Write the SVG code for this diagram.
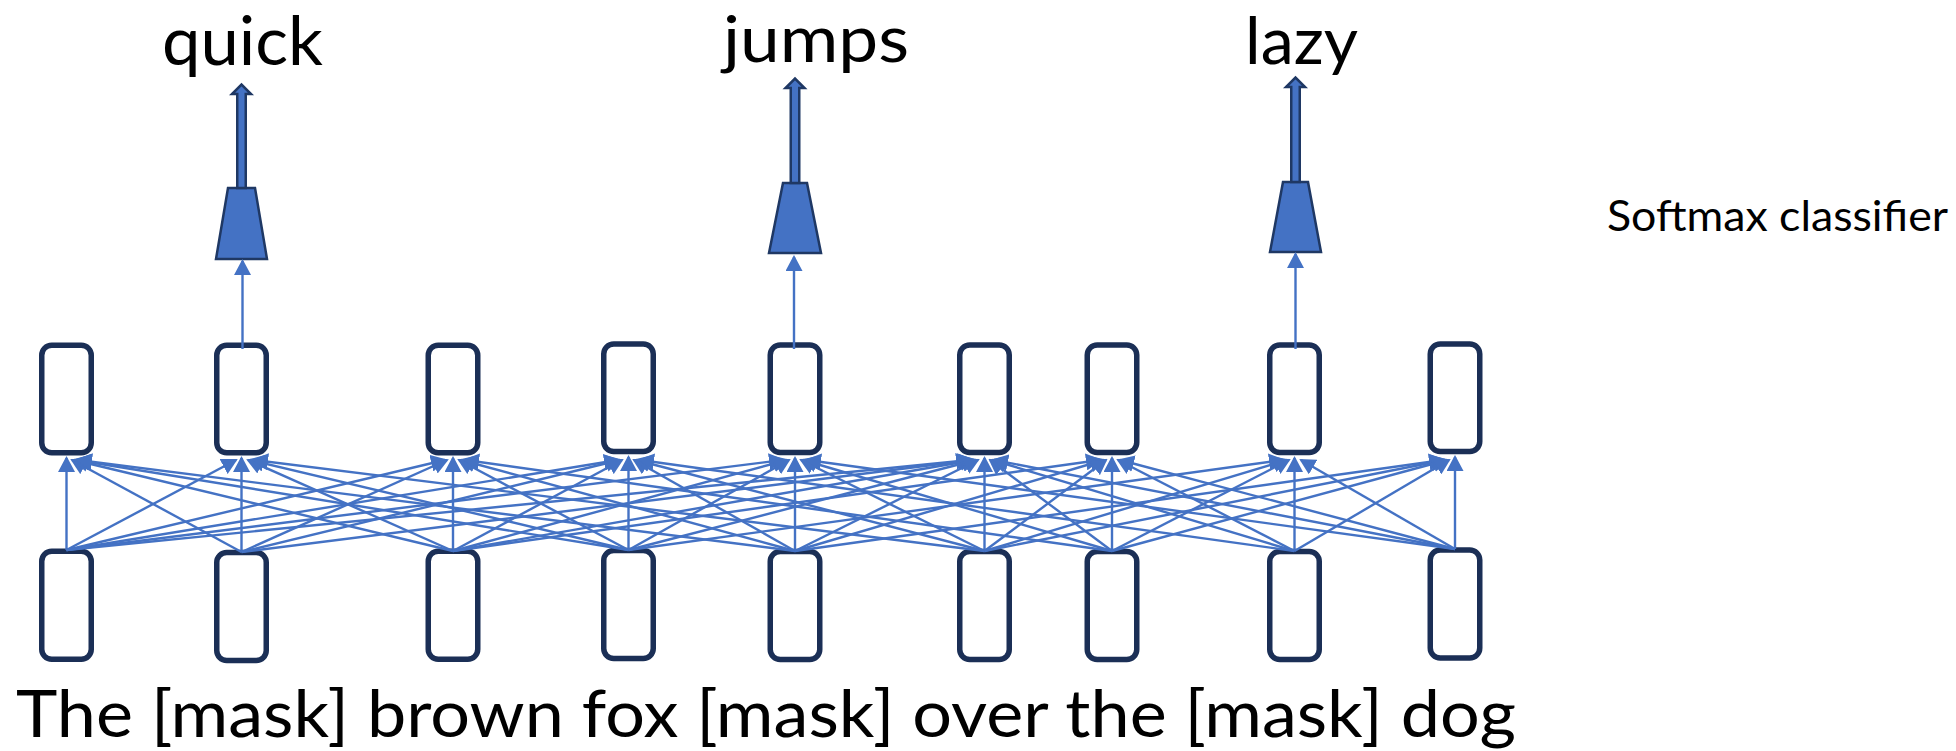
<svg xmlns="http://www.w3.org/2000/svg" width="1956" height="751" viewBox="0 0 1956 751">
  <style>
    .cell { fill: #ffffff; stroke: #1B2F56; stroke-width: 5.5; }
    .c { stroke: #4472C4; stroke-width: 2.4; fill: none; marker-end: url(#ah); }
    .clf { fill: #4472C4; stroke: #1F3864; stroke-width: 2.5; stroke-linejoin: miter; }
    .word { font-family: Lato, "Open Sans", "Liberation Sans", sans-serif; fill: #000000; }
  </style>
  <defs>
    <marker id="ah" viewBox="0 0 16 17" refX="14" refY="8.5" markerWidth="16" markerHeight="17" markerUnits="userSpaceOnUse" orient="auto">
      <path d="M0,0 L16,8.5 L0,17 z" fill="#4472C4"/>
    </marker>
  </defs>
  <rect width="1956" height="751" fill="#ffffff"/>

  <!-- output labels -->
  <text id="label-quick" class="word" x="162" y="65" font-size="68" textLength="161" lengthAdjust="spacingAndGlyphs">quick</text>
  <text id="label-jumps" class="word" x="723" y="62" font-size="64" textLength="186" lengthAdjust="spacingAndGlyphs">jumps</text>
  <text id="label-lazy" class="word" x="1245" y="64" font-size="66" textLength="113" lengthAdjust="spacingAndGlyphs">lazy</text>
  <text id="label-softmax" class="word" x="1607" y="231" font-size="42" textLength="341" lengthAdjust="spacingAndGlyphs">Softmax classifier</text>

  <!-- softmax classifiers -->
  <g id="clf-quick">
    <polygon class="clf" points="228,188 255,188 267,259 216,259"/>
    <polygon class="clf" points="237.25,188 237.25,94 232,94 241.5,84.5 251,94 245.75,94 245.75,188"/>
  </g>
  <g id="clf-jumps">
    <polygon class="clf" points="783,183 807,183 821,253 769,253"/>
    <polygon class="clf" points="790.75,183 790.75,88 785.5,88 795,78.5 804.5,88 799.25,88 799.25,183"/>
  </g>
  <g id="clf-lazy">
    <polygon class="clf" points="1283,182 1308,182 1321,252 1270,252"/>
    <polygon class="clf" points="1291.25,182 1291.25,87 1286,87 1295.5,77.5 1305,87 1299.75,87 1299.75,182"/>
  </g>

  <!-- upper (contextual) cells -->
  <g id="h1"><rect class="cell" x="41.75" y="345.25" width="49.5" height="107.5" rx="10"/></g>
  <g id="h2"><rect class="cell" x="216.75" y="345.25" width="49.5" height="107.5" rx="10"/></g>
  <g id="h3"><rect class="cell" x="428.25" y="345.25" width="49.5" height="107.5" rx="10"/></g>
  <g id="h4"><rect class="cell" x="603.75" y="344" width="49.5" height="107.5" rx="10"/></g>
  <g id="h5"><rect class="cell" x="770.25" y="345" width="49.5" height="107.5" rx="10"/></g>
  <g id="h6"><rect class="cell" x="959.75" y="345" width="49.5" height="107.5" rx="10"/></g>
  <g id="h7"><rect class="cell" x="1087.25" y="345" width="49.5" height="107.5" rx="10"/></g>
  <g id="h8"><rect class="cell" x="1269.75" y="345" width="49.5" height="107.5" rx="10"/></g>
  <g id="h9"><rect class="cell" x="1430.25" y="344" width="49.5" height="107.5" rx="10"/></g>

  <!-- lower (input) cells -->
  <g id="e1"><rect class="cell" x="41.75" y="551.25" width="49.5" height="108" rx="10"/></g>
  <g id="e2"><rect class="cell" x="216.75" y="552.5" width="49.5" height="108" rx="10"/></g>
  <g id="e3"><rect class="cell" x="428.25" y="551.25" width="49.5" height="108" rx="10"/></g>
  <g id="e4"><rect class="cell" x="603.75" y="550.5" width="49.5" height="108" rx="10"/></g>
  <g id="e5"><rect class="cell" x="770.25" y="551.5" width="49.5" height="108" rx="10"/></g>
  <g id="e6"><rect class="cell" x="959.75" y="551.5" width="49.5" height="108" rx="10"/></g>
  <g id="e7"><rect class="cell" x="1087.25" y="551.5" width="49.5" height="108" rx="10"/></g>
  <g id="e8"><rect class="cell" x="1269.75" y="551.5" width="49.5" height="108" rx="10"/></g>
  <g id="e9"><rect class="cell" x="1430.25" y="550" width="49.5" height="108" rx="10"/></g>

  <!-- input sentence -->
  <text id="sentence" class="word" x="16" y="737" font-size="66" textLength="1500" lengthAdjust="spacingAndGlyphs">The [mask] brown fox [mask] over the [mask] dog</text>

  <!-- connectors: input cells to upper cells, upper cells to classifiers -->
  <g id="connectors">
    <line class="c" x1="242.5" y1="349" x2="242.5" y2="261" stroke-width="2"/>
    <line class="c" x1="794" y1="349" x2="794" y2="257" stroke-width="2"/>
    <line class="c" x1="1295.5" y1="349" x2="1295.5" y2="254" stroke-width="2"/>

    <!-- from e1 -->
    <line class="c" x1="66.5" y1="550" x2="66.5" y2="458"/>
    <line class="c" x1="66.5" y1="550" x2="236" y2="460"/>
    <line class="c" x1="66.5" y1="550" x2="445" y2="460"/>
    <line class="c" x1="66.5" y1="550" x2="618" y2="460"/>
    <line class="c" x1="66.5" y1="550" x2="783" y2="460"/>
    <line class="c" x1="66.5" y1="550" x2="970" y2="460"/>
    <!-- from e2 -->
    <line class="c" x1="241.5" y1="552" x2="72" y2="460"/>
    <line class="c" x1="241.5" y1="552" x2="241.5" y2="458"/>
    <line class="c" x1="241.5" y1="552" x2="447" y2="460"/>
    <line class="c" x1="241.5" y1="552" x2="620" y2="460"/>
    <line class="c" x1="241.5" y1="552" x2="972" y2="460"/>
    <!-- from e3 -->
    <line class="c" x1="453" y1="551" x2="74" y2="460"/>
    <line class="c" x1="453" y1="551" x2="248" y2="460"/>
    <line class="c" x1="453" y1="551" x2="453" y2="458"/>
    <line class="c" x1="453" y1="551" x2="622" y2="460"/>
    <line class="c" x1="453" y1="551" x2="787" y2="460"/>
    <line class="c" x1="453" y1="551" x2="974" y2="460"/>
    <line class="c" x1="453" y1="551" x2="1100" y2="460"/>
    <!-- from e4 -->
    <line class="c" x1="628.5" y1="550" x2="76" y2="460"/>
    <line class="c" x1="628.5" y1="550" x2="250" y2="460"/>
    <line class="c" x1="628.5" y1="550" x2="459" y2="460"/>
    <line class="c" x1="628.5" y1="550" x2="628.5" y2="457"/>
    <line class="c" x1="628.5" y1="550" x2="789" y2="460"/>
    <line class="c" x1="628.5" y1="550" x2="976" y2="460"/>
    <line class="c" x1="628.5" y1="550" x2="1283" y2="460"/>
    <!-- from e5 -->
    <line class="c" x1="795" y1="551" x2="78" y2="460"/>
    <line class="c" x1="795" y1="551" x2="461" y2="460"/>
    <line class="c" x1="795" y1="551" x2="634" y2="460"/>
    <line class="c" x1="795" y1="551" x2="795" y2="458"/>
    <line class="c" x1="795" y1="551" x2="978" y2="460"/>
    <line class="c" x1="795" y1="551" x2="1104" y2="460"/>
    <line class="c" x1="795" y1="551" x2="1443" y2="460"/>
    <!-- from e6 -->
    <line class="c" x1="984.5" y1="551" x2="254" y2="460"/>
    <line class="c" x1="984.5" y1="551" x2="636" y2="460"/>
    <line class="c" x1="984.5" y1="551" x2="801" y2="460"/>
    <line class="c" x1="984.5" y1="551" x2="984.5" y2="458"/>
    <line class="c" x1="984.5" y1="551" x2="1106" y2="460"/>
    <line class="c" x1="984.5" y1="551" x2="1287" y2="460"/>
    <line class="c" x1="984.5" y1="551" x2="1445" y2="460"/>
    <!-- from e7 -->
    <line class="c" x1="1112" y1="551" x2="465" y2="460"/>
    <line class="c" x1="1112" y1="551" x2="803" y2="460"/>
    <line class="c" x1="1112" y1="551" x2="990" y2="460"/>
    <line class="c" x1="1112" y1="551" x2="1112" y2="458"/>
    <line class="c" x1="1112" y1="551" x2="1289" y2="460"/>
    <line class="c" x1="1112" y1="551" x2="1447" y2="460"/>
    <!-- from e8 -->
    <line class="c" x1="1294.5" y1="551" x2="640" y2="460"/>
    <line class="c" x1="1294.5" y1="551" x2="992" y2="460"/>
    <line class="c" x1="1294.5" y1="551" x2="1118" y2="460"/>
    <line class="c" x1="1294.5" y1="551" x2="1294.5" y2="458"/>
    <line class="c" x1="1294.5" y1="551" x2="1449" y2="460"/>
    <!-- from e9 -->
    <line class="c" x1="1455" y1="549" x2="807" y2="460"/>
    <line class="c" x1="1455" y1="549" x2="994" y2="460"/>
    <line class="c" x1="1455" y1="549" x2="1120" y2="460"/>
    <line class="c" x1="1455" y1="549" x2="1301" y2="460"/>
    <line class="c" x1="1455" y1="549" x2="1455" y2="457"/>
  </g>
</svg>
